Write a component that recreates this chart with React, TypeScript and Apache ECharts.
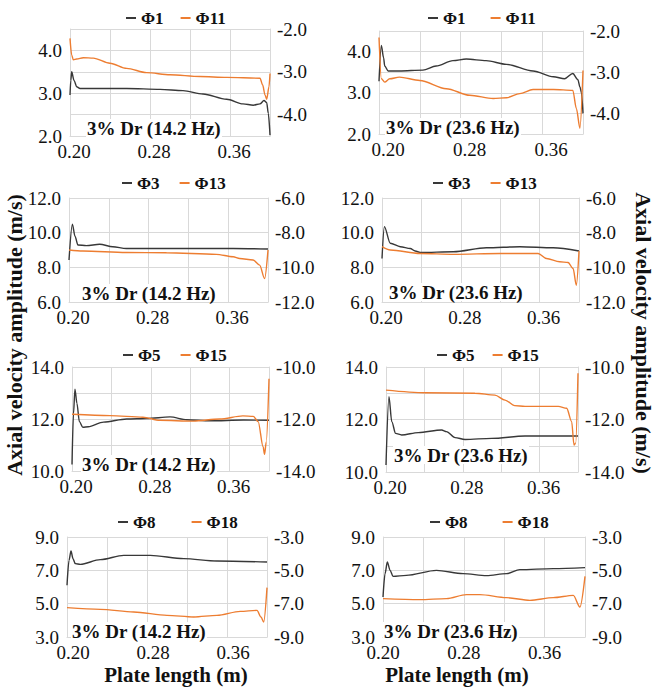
import React, { useEffect, useRef } from 'react';
import * as echarts from 'echarts';

// ---- text ----
const X_TICK_LABELS = ['0.20', '0.28', '0.36'];
const FREQ_LABELS = ['3% Dr (14.2 Hz)', '3% Dr (23.6 Hz)'];
const AXIS_TITLE = 'Axial velocity amplitude (m/s)';
const X_TITLE = 'Plate length (m)';
const NAMES_LEFT = ['Φ1', 'Φ3', 'Φ5', 'Φ8'];
const NAMES_RIGHT = ['Φ11', 'Φ13', 'Φ15', 'Φ18'];

// ---- axis scales per row: [min, max, interval] ----
const LEFT_RANGES = [[2, 4.5, 0.5], [6, 12, 2], [10, 14, 1], [3, 9, 1]];
const RIGHT_RANGES = [[-4.5, -2, 0.5], [-12, -6, 2], [-14, -10, 1], [-9, -3, 1]];
const LEFT_TICKS = [[2, 3, 4], [6, 8, 10, 12], [10, 12, 14], [3, 5, 7, 9]];
const RIGHT_TICKS = [[-4, -3, -2], [-12, -10, -8, -6], [-14, -12, -10], [-9, -7, -5, -3]];
const ROW4_GRID = [5, 7, 9];

// ---- data: [plate length (m), amplitude (m/s)] ----
const PHI1_14 = [[0.2, 2.96], [0.2008, 3.3], [0.2017, 3.5], [0.204, 3.3], [0.2067, 3.15], [0.21, 3.11], [0.2567, 3.11], [0.29, 3.09], [0.313, 3.06], [0.333, 2.98], [0.3567, 2.86], [0.373, 2.75], [0.3833, 2.72], [0.39, 2.75], [0.394, 2.83], [0.3967, 2.78], [0.3983, 2.53], [0.4, 2.02]];
const PHI11_14 = [[0.2, -2.22], [0.2017, -2.61], [0.2033, -2.72], [0.2067, -2.7], [0.2133, -2.67], [0.2233, -2.68], [0.24, -2.8], [0.2567, -2.92], [0.2767, -3.02], [0.3, -3.07], [0.33, -3.11], [0.3567, -3.13], [0.39, -3.15], [0.3927, -3.31], [0.395, -3.54], [0.3967, -3.64], [0.399, -3.35], [0.4, -3.04]];
const PHI1_23 = [[0.2, 3.28], [0.2023, 4.15], [0.2045, 3.85], [0.2056, 3.65], [0.209, 3.53], [0.22, 3.53], [0.243, 3.55], [0.256, 3.65], [0.2725, 3.78], [0.2856, 3.82], [0.305, 3.78], [0.325, 3.69], [0.351, 3.53], [0.371, 3.39], [0.382, 3.34], [0.39, 3.47], [0.395, 3.32], [0.397, 3.14], [0.3985, 3.0], [0.4, 2.5]];
const PHI11_23 = [[0.2, -2.16], [0.2023, -3.16], [0.2056, -3.24], [0.2105, -3.16], [0.22, -3.12], [0.24, -3.2], [0.266, -3.4], [0.289, -3.56], [0.312, -3.64], [0.325, -3.62], [0.338, -3.52], [0.351, -3.42], [0.371, -3.42], [0.39, -3.44], [0.3935, -3.88], [0.397, -4.36], [0.4, -2.96]];
const PHI3_14 = [[0.2, 8.42], [0.2034, 10.49], [0.206, 9.8], [0.209, 9.29], [0.2174, 9.25], [0.2308, 9.33], [0.244, 9.19], [0.2576, 9.09], [0.298, 9.09], [0.365, 9.09], [0.4, 9.06]];
const PHI13_14 = [[0.2, -9.0], [0.214, -9.06], [0.2576, -9.14], [0.298, -9.16], [0.348, -9.25], [0.365, -9.39], [0.3715, -9.49], [0.385, -9.58], [0.3916, -9.87], [0.3966, -10.65], [0.4, -9.0]];
const PHI3_23 = [[0.2, 8.51], [0.2024, 10.35], [0.2084, 9.39], [0.2186, 9.19], [0.2287, 9.09], [0.2337, 8.94], [0.2388, 8.86], [0.2725, 8.9], [0.306, 9.13], [0.34, 9.19], [0.3737, 9.13], [0.4, 8.94]];
const PHI13_23 = [[0.2, -8.81], [0.2084, -9.0], [0.2388, -9.2], [0.2725, -9.25], [0.32, -9.2], [0.3585, -9.2], [0.367, -9.49], [0.3804, -9.68], [0.3889, -9.72], [0.394, -10.07], [0.3973, -11.03], [0.4, -9.06]];
const PHI5_14 = [[0.2, 10.25], [0.2015, 12.2], [0.203, 13.15], [0.205, 12.6], [0.2075, 11.9], [0.211, 11.68], [0.2165, 11.7], [0.232, 11.88], [0.2555, 12.0], [0.276, 12.02], [0.2995, 12.08], [0.3165, 11.97], [0.34, 11.93], [0.374, 11.96], [0.4, 11.95]];
const PHI15_14 = [[0.2, -11.82], [0.2387, -11.87], [0.272, -11.93], [0.289, -12.05], [0.323, -12.08], [0.35, -12.0], [0.3735, -11.88], [0.384, -11.9], [0.389, -12.1], [0.394, -13.07], [0.3955, -13.36], [0.3972, -12.88], [0.4, -10.45]];
const PHI5_23 = [[0.2, 10.27], [0.2031, 12.87], [0.206, 11.92], [0.21, 11.47], [0.2163, 11.41], [0.2337, 11.5], [0.258, 11.6], [0.263, 11.54], [0.2719, 11.31], [0.2823, 11.24], [0.31, 11.28], [0.3448, 11.37], [0.4, 11.37]];
const PHI15_23 = [[0.2, -10.88], [0.2406, -10.98], [0.2927, -11.0], [0.3135, -11.07], [0.324, -11.26], [0.334, -11.47], [0.3448, -11.5], [0.3795, -11.5], [0.3882, -11.57], [0.3934, -12.08], [0.3958, -12.97], [0.3976, -12.9], [0.4, -10.24]];
const PHI8_14 = [[0.2, 6.1], [0.202, 7.6], [0.204, 8.16], [0.206, 7.7], [0.2083, 7.4], [0.2133, 7.36], [0.2333, 7.64], [0.2567, 7.9], [0.2833, 7.9], [0.3167, 7.7], [0.35, 7.56], [0.4, 7.5]];
const PHI18_14 = [[0.2, -7.24], [0.2333, -7.34], [0.2667, -7.5], [0.3, -7.7], [0.3267, -7.8], [0.35, -7.7], [0.3733, -7.46], [0.39, -7.4], [0.394, -7.8], [0.3967, -8.1], [0.4, -6.04]];
const PHI8_23 = [[0.2, 5.4], [0.202, 6.8], [0.2043, 7.5], [0.207, 7.0], [0.2099, 6.64], [0.2231, 6.7], [0.2529, 7.0], [0.2793, 6.8], [0.3025, 6.68], [0.3223, 6.8], [0.3355, 7.04], [0.3686, 7.1], [0.4, 7.16]];
const PHI18_23 = [[0.2, -6.7], [0.2364, -6.76], [0.2628, -6.7], [0.2826, -6.46], [0.2959, -6.46], [0.3223, -6.64], [0.3455, -6.8], [0.3686, -6.64], [0.3884, -6.5], [0.395, -7.2], [0.4, -5.36]];

const PANEL_DATA = [
  [PHI1_14, PHI11_14], [PHI1_23, PHI11_23],
  [PHI3_14, PHI13_14], [PHI3_23, PHI13_23],
  [PHI5_14, PHI15_14], [PHI5_23, PHI15_23],
  [PHI8_14, PHI18_14], [PHI8_23, PHI18_23],
];

// ---- layout ----
const GRIDS = [
  { left: 70, top: 29, width: 200, height: 107 },
  { left: 379, top: 31, width: 204, height: 103 },
  { left: 69, top: 198, width: 199, height: 104 },
  { left: 382, top: 198, width: 197, height: 104 },
  { left: 72, top: 367, width: 197, height: 104 },
  { left: 386, top: 367, width: 192, height: 105 },
  { left: 67, top: 537, width: 200, height: 100 },
  { left: 383, top: 537, width: 202, height: 100 },
];
const X_LABEL_SHIFT = [4, 9, 4, 4, 4, 4, 6, 0];
const LEGENDS = [
  { left: 126, y: 18, gap: 17 }, { left: 428, y: 18, gap: 25 },
  { left: 122, y: 183, gap: 20 }, { left: 433, y: 183, gap: 20 },
  { left: 123, y: 355, gap: 20 }, { left: 437, y: 355, gap: 18 },
  { left: 118, y: 522, gap: 36 }, { left: 430, y: 522, gap: 35 },
];
const NOTES = [
  { x: 86, y: 128 }, { x: 385, y: 127 },
  { x: 81, y: 293 }, { x: 388, y: 292 },
  { x: 81, y: 464 }, { x: 393, y: 455 },
  { x: 71, y: 631 }, { x: 383, y: 631 },
];

const BLACK = '#383838';
const ORANGE = '#ED7D31';
const GRIDC = '#d9d9d9';
const FONT = 'Times New Roman, Liberation Serif, serif';
const TICK_SIZE = 19;

function hasTick(list: number[], v: number) {
  return list.some((t) => Math.abs(t - v) < 1e-6);
}

function buildOption() {
  const grid: any[] = [];
  const xAxis: any[] = [];
  const yAxis: any[] = [];
  const series: any[] = [];
  const legend: any[] = [];
  const graphic: any[] = [];

  for (let i = 0; i < 8; i++) {
    const row = Math.floor(i / 2);
    const col = i % 2;
    grid.push({ ...GRIDS[i], containLabel: false });
    xAxis.push({
      type: 'value',
      gridIndex: i,
      min: 0.2,
      max: 0.4,
      interval: 0.04,
      axisLine: { show: true, lineStyle: { color: GRIDC } },
      axisTick: { show: false },
      splitLine: { show: true, lineStyle: { color: GRIDC, width: 1 } },
      axisLabel: {
        margin: 7,
        color: '#111',
        fontFamily: FONT,
        fontSize: TICK_SIZE,
        lineHeight: 17,
        padding: [0, 0, 0, 2 * X_LABEL_SHIFT[i]],
        showMinLabel: true,
        showMaxLabel: true,
        formatter: (v: number) => {
          const s = v.toFixed(2);
          return X_TICK_LABELS.includes(s) ? s : '';
        },
      },
    });
    const [lmin, lmax, lint] = LEFT_RANGES[row];
    const [rmin, rmax, rint] = RIGHT_RANGES[row];
    yAxis.push({
      type: 'value',
      gridIndex: i,
      position: 'left',
      min: lmin,
      max: lmax,
      interval: lint,
      axisLine: { show: true, lineStyle: { color: GRIDC } },
      axisTick: { show: false },
      splitLine: { show: row !== 3, lineStyle: { color: GRIDC, width: 1 } },
      axisLabel: {
        margin: 8,
        color: '#111',
        fontFamily: FONT,
        fontSize: TICK_SIZE,
        showMinLabel: true,
        showMaxLabel: true,
        formatter: (v: number) => (hasTick(LEFT_TICKS[row], v) ? v.toFixed(1) : ''),
      },
    });
    yAxis.push({
      type: 'value',
      gridIndex: i,
      position: 'right',
      min: rmin,
      max: rmax,
      interval: rint,
      axisLine: { show: true, lineStyle: { color: GRIDC } },
      axisTick: { show: false },
      splitLine: { show: false },
      axisLabel: {
        margin: 7,
        color: '#111',
        fontFamily: FONT,
        fontSize: TICK_SIZE,
        showMinLabel: true,
        showMaxLabel: true,
        formatter: (v: number) => (hasTick(RIGHT_TICKS[row], v) ? v.toFixed(1) : ''),
      },
    });

    const [dL, dR] = PANEL_DATA[i];
    const leftSeries: any = {
      type: 'line',
      name: NAMES_LEFT[row],
      xAxisIndex: i,
      yAxisIndex: 2 * i,
      data: dL,
      symbol: 'none',
      showSymbol: false,
      smooth: 0.3,
      smoothMonotone: 'x',
      lineStyle: { color: BLACK, width: 1.4 },
      itemStyle: { color: BLACK },
      z: 3,
    };
    if (row === 3) {
      leftSeries.markLine = {
        silent: true,
        symbol: 'none',
        z: 1,
        label: { show: false },
        lineStyle: { color: GRIDC, width: 1, type: 'solid' },
        data: ROW4_GRID.map((v) => ({ yAxis: v })),
      };
    }
    series.push(leftSeries);
    series.push({
      type: 'line',
      name: NAMES_RIGHT[row],
      xAxisIndex: i,
      yAxisIndex: 2 * i + 1,
      data: dR,
      symbol: 'none',
      showSymbol: false,
      smooth: 0.3,
      smoothMonotone: 'x',
      lineStyle: { color: ORANGE, width: 1.4 },
      itemStyle: { color: ORANGE },
      z: 3,
    });

    const lg = LEGENDS[i];
    legend.push({
      data: [NAMES_LEFT[row], NAMES_RIGHT[row]],
      left: lg.left,
      top: lg.y - 9,
      orient: 'horizontal',
      icon: 'rect',
      itemWidth: 10,
      itemHeight: 2,
      itemGap: lg.gap,
      padding: 0,
      selectedMode: false,
      textStyle: { fontFamily: FONT, fontSize: 17, fontWeight: 'bold', color: '#111', lineHeight: 18 },
    });

    const n = NOTES[i];
    graphic.push({
      type: 'text',
      x: n.x,
      y: n.y,
      z: 100,
      style: {
        text: FREQ_LABELS[col],
        fontFamily: FONT,
        fontSize: 19,
        fontWeight: 'bold',
        lineHeight: 18,
        fill: '#111',
        align: 'left',
        verticalAlign: 'middle',
        backgroundColor: '#fff',
        padding: [0, 1],
      },
    });
  }

  const titleStyle = (size: number) => ({
    fontFamily: FONT,
    fontSize: size,
    fontWeight: 'bold',
    fill: '#111',
    align: 'center',
    verticalAlign: 'middle',
  });

  graphic.push({
    type: 'text',
    x: 14,
    y: 335,
    rotation: Math.PI / 2,
    style: { text: AXIS_TITLE, ...titleStyle(22) },
  });
  graphic.push({
    type: 'text',
    x: 643,
    y: 333,
    rotation: -Math.PI / 2,
    style: { text: AXIS_TITLE, ...titleStyle(22) },
  });
  graphic.push({
    type: 'text',
    x: 176,
    y: 675,
    style: { text: X_TITLE, ...titleStyle(21) },
  });
  graphic.push({
    type: 'text',
    x: 457,
    y: 675,
    style: { text: X_TITLE, ...titleStyle(21) },
  });

  return {
    animation: false,
    backgroundColor: '#fff',
    textStyle: { fontFamily: FONT },
    grid,
    xAxis,
    yAxis,
    series,
    legend,
    graphic,
  };
}

export default function App() {
  const ref = useRef<HTMLDivElement>(null);
  useEffect(() => {
    if (!ref.current) return;
    const chart = echarts.init(ref.current, undefined, { renderer: 'svg' });
    chart.setOption(buildOption() as any);
    return () => chart.dispose();
  }, []);
  return (
    <div
      ref={ref}
      style={{ position: 'absolute', left: 0, top: 0, width: 654, height: 689, background: '#fff' }}
    />
  );
}
